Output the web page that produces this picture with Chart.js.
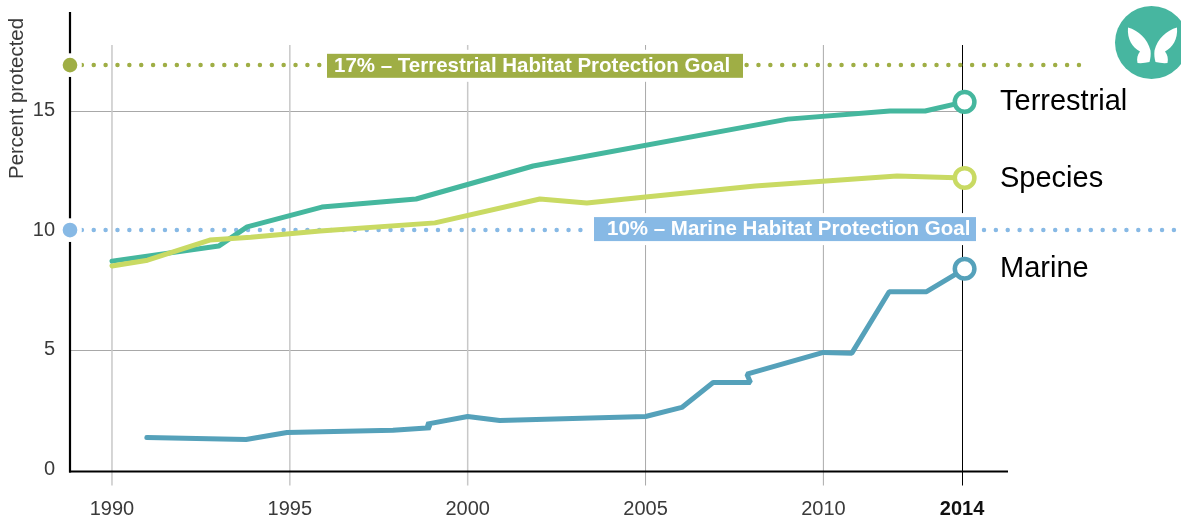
<!DOCTYPE html>
<html><head><meta charset="utf-8">
<script src="https://cdn.jsdelivr.net/npm/chart.js@4/dist/chart.umd.js"></script>
<style>html,body{margin:0;padding:0;background:#fff}#wrap{position:relative;width:1181px;height:518px;overflow:hidden}</style>
</head><body><div id="wrap"><canvas id="c" width="1181" height="518"></canvas></div>
<script>
const terrestrialYears = [1990,1993,1993.8,1995.9,1998.55,2001.84,2009,2011.87,2012.86,2013.97];
const terrestrialValues = [8.7,9.33,10.13,10.96,11.3,12.68,14.64,14.98,14.98,15.36];
const speciesYears = [1990,1991,1992.75,1993.9,1995.85,1999.08,2002.03,2003.35,2005,2008.08,2012.07,2013.97];
const speciesValues = [8.5,8.74,9.58,9.7,9.96,10.3,11.3,11.13,11.38,11.84,12.26,12.18];
const marineYears = [1990.98,1993.77,1994.92,1997.9,1998.95,1998.85,2000,2000.9,2005,2006.02,2006.9,2007.95,2007.85,2010,2010.8,2011.85,2012.9,2013.97];
const marineValues = [1.32,1.24,1.53,1.63,1.73,1.88,2.2,2.03,2.2,2.58,3.62,3.62,3.97,4.88,4.85,7.42,7.42,8.38];
const goalTerrestrialYears = [1988.82,2017.3];
const goalTerrestrialValues = [16.9,16.9];
const goalMarineYears = [1988.82,2020.5];
const goalMarineValues = [10,10];
const xTickValues = [1990,1995,2000,2005,2010,2013.9];
const xTickLabels = ['1990','1995','2000','2005','2010','2014'];
const yTickValues = [0,5,10,15];
const seriesLabels = ['Terrestrial','Species','Marine'];
const seriesLabelLevels = [15.36,12.14,8.38];
const goalLabels = ['17% – Terrestrial Habitat Protection Goal','10% – Marine Habitat Protection Goal'];
const goalLabelLevels = [16.87,10.04];
const axisTitle = 'Percent protected';

const FONT = '"Liberation Sans", Arial, sans-serif';
const TEAL='#45b79e', LIME='#c9da63', BLUE='#55a1ba', OLIVE='#9fae45', SKY='#87b9e5';
const pts=(xs,ys)=>xs.map((x,i)=>({x,y:ys[i]}));
const series=(label,xs,ys,color)=>({label,data:pts(xs,ys),borderColor:color,borderWidth:5,fill:false,tension:0,
  borderJoinStyle:'bevel',borderCapStyle:'round',clip:false,pointStyle:'circle',
  pointRadius:c=>c.dataIndex===xs.length-1?9.8:0,pointBackgroundColor:'#fff',pointBorderColor:color,pointBorderWidth:4.5,pointHoverRadius:0});
const goal=(label,xs,ys,color)=>({label,data:pts(xs,ys),borderColor:color,borderWidth:4.5,fill:false,tension:0,
  borderCapStyle:'round',borderDash:[0,11.87],clip:false,
  pointRadius:c=>c.dataIndex===0?9.6:0,pointBackgroundColor:color,pointBorderColor:'#fff',pointBorderWidth:4.5});

const decor={id:'decor',
 beforeDatasetsDraw(ch){
  const g=ch.ctx,x=ch.scales.x,y=ch.scales.y;
  const top=y.getPixelForValue(17.74), low=y.bottom+14;
  g.save();
  g.lineWidth=1;
  [5,15].forEach(v=>{const p=Math.round(y.getPixelForValue(v))+.5;
    g.strokeStyle='#a8a8a8';g.beginPath();g.moveTo(x.left,p);g.lineTo(x.getPixelForValue(xTickValues[5]),p);g.stroke();});
  xTickValues.forEach((v,i)=>{let p=x.getPixelForValue(v);
    const last=i===xTickValues.length-1;
    if(last)p=Math.floor(p)+.5;
    g.strokeStyle=last?'#000':(i<3?'#c8c8c8':'#aaaaaa');g.lineWidth=last?1:(i<3?1.5:1);
    g.beginPath();g.moveTo(p,top);g.lineTo(p,low);g.stroke();});
  g.strokeStyle='#000';g.lineWidth=2;
  g.beginPath();g.moveTo(x.left-1,y.bottom);g.lineTo(x.right,y.bottom);g.stroke();
  g.lineWidth=2.2;
  g.beginPath();g.moveTo(x.left,12);g.lineTo(x.left,y.bottom+1);g.stroke();
  g.restore();
 },
 afterDatasetsDraw(ch){
  const g=ch.ctx,x=ch.scales.x,y=ch.scales.y;
  g.save();
  const box=(txt,l,r,tx,v,col)=>{const c=y.getPixelForValue(v),h=24;
    g.fillStyle='#fff';g.fillRect(l-5,c-h/2-4,r-l+6,h+8);
    g.fillStyle=col;g.fillRect(l,c-h/2,r-l,h);
    g.fillStyle='#fff';g.font='bold 20.5px '+FONT;g.textAlign='left';g.textBaseline='middle';
    g.fillText(txt,tx,c+.5);};
  box(goalLabels[0],327,743,334,goalLabelLevels[0],OLIVE);
  box(goalLabels[1],594,976,607,goalLabelLevels[1],SKY);
  g.fillStyle='#000';g.font='29px '+FONT;g.textAlign='left';g.textBaseline='middle';
  seriesLabelLevels.forEach((v,i)=>g.fillText(seriesLabels[i],1000,y.getPixelForValue(v)));
  // logo
  const cx=1152.5,cy=42.5;
  g.fillStyle='#47b6a0';g.beginPath();g.arc(1151.5,cy,36.5,0,Math.PI*2);g.fill();
  g.fillStyle='#fff';
  [1,-1].forEach(s=>{const X=d=>cx+s*d;
    g.beginPath();g.moveTo(X(24.5),cy-15);
    g.bezierCurveTo(X(14),cy-12,X(5),cy-4,X(2),cy+8);
    g.bezierCurveTo(X(1.5),cy+12,X(2),cy+16,X(3),cy+19.5);
    g.quadraticCurveTo(X(9),cy+21,X(15),cy+20.5);
    g.bezierCurveTo(X(16),cy+16,X(15),cy+12,X(12.5),cy+9);
    g.bezierCurveTo(X(20),cy+5,X(25.5),cy-3,X(24.5),cy-15);
    g.closePath();g.fill();});
  g.restore();
 }};

new Chart(document.getElementById('c'),{
 type:'line',
 data:{datasets:[
  series('Species',speciesYears,speciesValues,LIME),
  series('Terrestrial',terrestrialYears,terrestrialValues,TEAL),
  series('Marine',marineYears,marineValues,BLUE),
  goal('Terrestrial goal',goalTerrestrialYears,goalTerrestrialValues,OLIVE),
  goal('Marine goal',goalMarineYears,goalMarineValues,SKY)
 ]},
 plugins:[decor],
 options:{responsive:false,animation:false,
  layout:{padding:{left:0,top:18,right:173,bottom:0}},
  plugins:{legend:{display:false},tooltip:{enabled:false}},
  events:[],
  scales:{
   x:{type:'linear',min:1988.82,max:2015.19,grid:{display:false,drawTicks:false},border:{display:false},
      afterBuildTicks:s=>{s.ticks=xTickValues.map(v=>({value:v}));},
      afterFit:s=>{s.height=46.5;s.paddingLeft=0;s.paddingRight=0;},
      ticks:{autoSkip:false,maxRotation:0,padding:26,color:c=>c.index===5?'#111':'#3a3a3a',
        font:c=>({family:FONT,size:20,weight:c.index===5?'bold':'normal'}),
        callback:(v,i)=>xTickLabels[i]}},
   y:{type:'linear',min:-0.1,max:18.87,grid:{display:false,drawTicks:false},border:{display:false},
      afterBuildTicks:s=>{s.ticks=yTickValues.map(v=>({value:v}));},
      afterFit:s=>{s.width=70;s.paddingTop=0;s.paddingBottom=0;},
      title:{display:true,text:axisTitle,align:'end',color:'#3a3a3a',font:{family:FONT,size:20.4},padding:{top:5,bottom:0}},
      ticks:{padding:15,color:'#3a3a3a',font:{family:FONT,size:20},callback:v=>String(v)}}
  }}
});
</script></body></html>
